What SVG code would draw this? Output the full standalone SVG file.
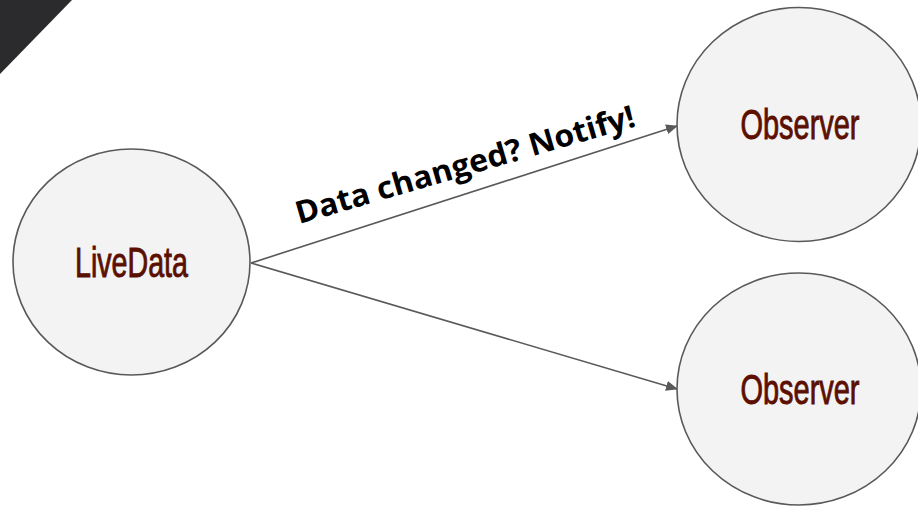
<svg xmlns="http://www.w3.org/2000/svg" width="918" height="507" viewBox="0 0 918 507">
<defs>
<style>
.node ellipse{fill:#f3f3f3;stroke:#595959;stroke-width:1.6}
.node text{font-family:"Liberation Sans","DejaVu Sans",sans-serif;font-size:42px;fill:#5b0f00;stroke:#5b0f00;stroke-width:0.9;text-anchor:middle}
.edge{stroke:#595959;stroke-width:1.6;fill:none;marker-end:url(#ah)}
.lbl{font-family:"Open Sans","DejaVu Sans",sans-serif;font-weight:bold;font-size:31px;fill:#000;text-anchor:middle}
</style>
<marker id="ah" markerWidth="12" markerHeight="10" refX="11" refY="5" orient="auto" markerUnits="userSpaceOnUse">
<path d="M0,0 L12,5 L0,10 z" fill="#595959"/>
</marker>
</defs>
<rect width="918" height="507" fill="#fff"/>
<polygon points="0,0 72,0 0,74" fill="#2b2b2d"/>
<g id="connectors">
<line class="edge" x1="251" y1="263" x2="677" y2="126"/>
<line class="edge" x1="251" y1="263" x2="677" y2="389"/>
<text class="lbl" transform="translate(468,175) rotate(-16.2)" textLength="352" lengthAdjust="spacingAndGlyphs">Data changed? Notify!</text>
</g>
<g id="livedata" class="node">
<ellipse cx="131.5" cy="262" rx="118.5" ry="113"/>
<text x="131.5" y="277" textLength="113" lengthAdjust="spacingAndGlyphs">LiveData</text>
</g>
<g id="observer1" class="node">
<ellipse cx="799" cy="124.5" rx="122" ry="117"/>
<text x="800" y="139" textLength="119" lengthAdjust="spacingAndGlyphs">Observer</text>
</g>
<g id="observer2" class="node">
<ellipse cx="799" cy="389" rx="122" ry="116"/>
<text x="800" y="404" textLength="119" lengthAdjust="spacingAndGlyphs">Observer</text>
</g>
</svg>
